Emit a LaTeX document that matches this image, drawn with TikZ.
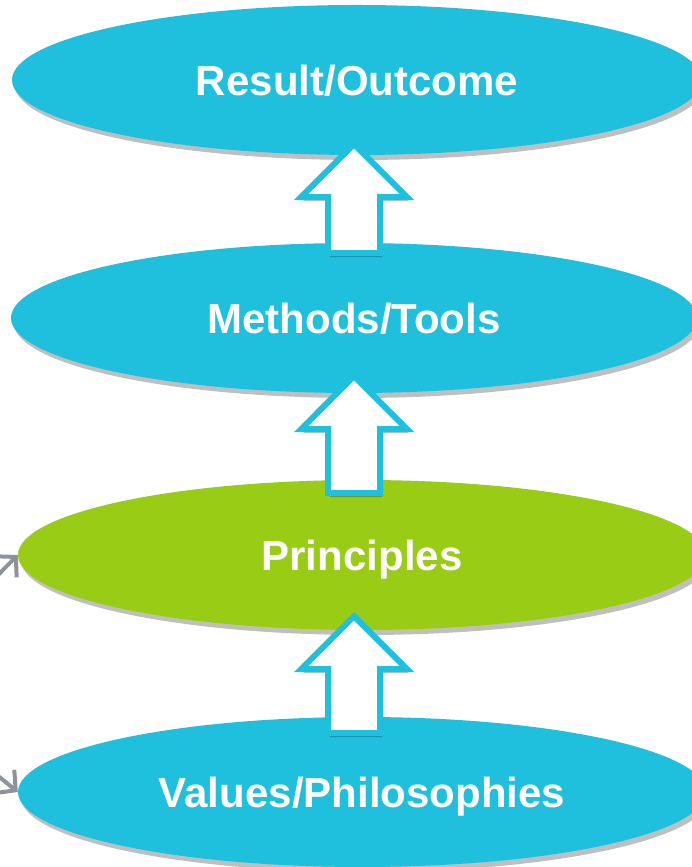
\documentclass[tikz,border=0pt]{standalone}
\usepackage{fontspec}
\setmainfont{Liberation Sans}
\usepackage{xcolor}
\usetikzlibrary{shapes.geometric,shapes.arrows,shadows,arrows.meta}
\definecolor{stagecyan}{RGB}{31,192,221}
\definecolor{stagegreen}{RGB}{153,204,20}
\definecolor{feedgray}{RGB}{142,147,155}

\begin{document}
\begin{tikzpicture}[x=1pt,y=1pt,
		stage/.style={ellipse,fill=stagecyan,minimum height=150pt,inner sep=0pt,text=white,text depth=0pt,
			font=\fontsize{42}{50}\selectfont\bfseries,
			drop shadow={shadow xshift=3pt,shadow yshift=-5pt,opacity=0.25,fill=black}},
		liftarrow/.style={single arrow,shape border rotate=90,anchor=tip,draw=stagecyan,line width=6pt,fill=white,
			inner sep=23pt,single arrow head extend=27pt,line join=miter,
			drop shadow={shadow xshift=2pt,shadow yshift=-4pt,opacity=0.25,fill=black}},
		feed/.style={draw=feedgray,line width=4pt,-{Straight Barb[length=14pt,width=30pt]}}]
		\useasboundingbox (0,0) rectangle (692,867);
		% the four stages, top to bottom
		\node[stage,minimum width=690pt] (result) at (357,787) {Result/Outcome};
		\node[stage,minimum width=686pt] (methods) at (354,549) {Methods/Tools};
		\node[stage,minimum width=688pt,fill=stagegreen] (principles) at (362,312) {Principles};
		\node[stage,minimum width=688pt] (values) at (362,75) {Values/Philosophies};
		
		% placed by their tips
		\node[liftarrow,minimum height=109pt] (lift1) at (354,727) {};
		\node[liftarrow,minimum height=117pt] (lift2) at (354,495) {};
		\node[liftarrow,minimum height=117pt] (lift3) at (354,255) {};
		
		% feedback lines coming in from the left
		\coordinate (backA) at (-8,286);
		\coordinate (backB) at (-8,96);
		\draw[feed] (backA) -- (principles.west);
		\draw[feed] (backB) -- (values.west);
	\end{tikzpicture}
\end{document}
